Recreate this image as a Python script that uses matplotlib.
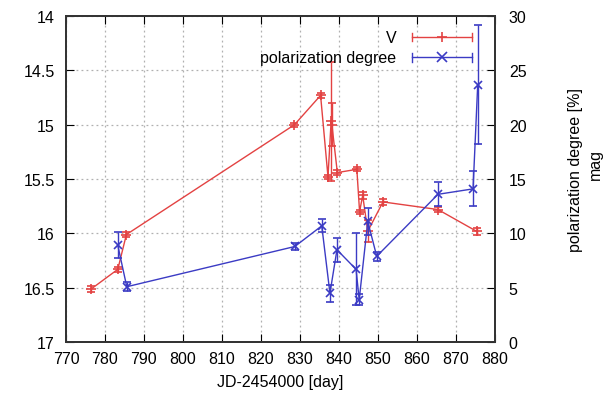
import matplotlib
matplotlib.use("Agg")
import matplotlib.pyplot as plt
from matplotlib.lines import Line2D

# V-band light curve (mag) and polarization degree (%)
days_v = [776.5, 783.3, 785.5, 828.6, 835.3, 837.2, 838.0, 838.2, 839.6,
          844.6, 845.3, 846.1, 847.4, 851.3, 865.4, 875.3]
v_mag = [16.51, 16.33, 16.01, 15.00, 14.73, 15.48, 14.97, 15.00, 15.44,
         15.41, 15.80, 15.65, 15.98, 15.71, 15.78, 15.98]
v_err = [0.03, 0.02, 0.02, 0.02, 0.02, 0.02, 0.55, 0.20, 0.02,
         0.02, 0.02, 0.03, 0.10, 0.03, 0.02, 0.03]

days_p = [783.3, 785.6, 828.7, 835.6, 837.7, 839.5, 844.4, 845.2,
          847.4, 849.7, 865.4, 874.4, 875.6]
pol = [8.9, 5.1, 8.8, 10.7, 4.5, 8.5, 6.7, 3.9, 11.1, 7.9, 13.6, 14.1, 23.7]
pol_err = [1.2, 0.4, 0.3, 0.6, 0.8, 1.1, 3.3, 0.5, 1.2, 0.4, 1.1, 1.6, 5.5]

red = "#e34242"
blue = "#3b3bc4"

plt.rcParams["font.family"] = ["Liberation Sans", "DejaVu Sans"]
plt.rcParams["font.size"] = 11.5

fig = plt.figure(figsize=(6.05, 4.10), dpi=100)
ax = fig.add_axes([0.109, 0.163, 0.709, 0.7955])
ax2 = ax.twinx()

ax.errorbar(days_v, v_mag, yerr=v_err, color=red, marker="+", ms=7,
            lw=1.0, elinewidth=1.0, capsize=3, mew=1.2)
ax2.errorbar(days_p, pol, yerr=pol_err, color=blue, marker="x", ms=6,
             lw=1.0, elinewidth=1.0, capsize=3, mew=1.2)

ax.set_xlim(770, 880)
ax.set_ylim(17, 14)
ax2.set_ylim(0, 30)
ax.set_xticks(range(770, 881, 10))
ax.set_yticks([14, 14.5, 15, 15.5, 16, 16.5, 17])
ax.set_yticklabels(["14", "14.5", "15", "15.5", "16", "16.5", "17"])
ax2.set_yticks(range(0, 31, 5))

ax.grid(True, color="#b0b0b0", linestyle=(0, (1.5, 2.5)), lw=0.9)
ax.tick_params(axis="x", direction="in", length=6, top=True, pad=6)
ax.tick_params(axis="y", direction="in", length=6, pad=8)
ax2.tick_params(axis="y", direction="in", length=6, pad=10)
for a in (ax, ax2):
    for s in a.spines.values():
        s.set_linewidth(1.3)
        s.set_color("#333333")

ax.set_xlabel("JD-2454000 [day]", labelpad=6)
fig.text(0.952, 0.585, "polarization degree [%]", rotation=90,
         ha="center", va="center")
fig.text(0.984, 0.6, "mag", rotation=90, ha="center", va="center")

# key in the upper right, drawn gnuplot style with capped bars
tr = ax.transAxes
for row, (label, col, mk) in enumerate([("V", red, "+"),
                                        ("polarization degree", blue, "x")]):
    y = 0.935 - row * 0.062
    ax.text(0.77, y, label, transform=tr, ha="right", va="center")
    ax.add_line(Line2D([0.807, 0.947], [y, y], transform=tr, color=col, lw=1.0))
    for xe in (0.807, 0.947):
        ax.add_line(Line2D([xe, xe], [y - 0.013, y + 0.013], transform=tr,
                           color=col, lw=1.0))
    ax.add_line(Line2D([0.877], [y], transform=tr, color=col, marker=mk,
                       ms=7, mew=1.2, lw=0))

fig.savefig("out.png", dpi=100)
